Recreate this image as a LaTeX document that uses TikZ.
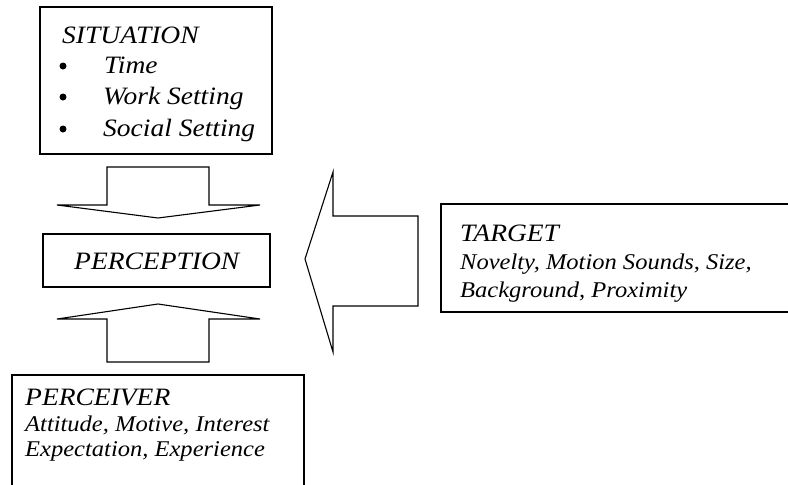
\documentclass[tikz,border=0pt]{standalone}
\usepackage{fontspec}
\setmainfont{Liberation Serif}
\newcommand{\bigtxt}[1]{\scalebox{1.1}[1]{\fontsize{25}{28}\selectfont\itshape #1}}
\newcommand{\smtxt}[1]{\scalebox{1.09}[1]{\fontsize{22.5}{26}\selectfont\itshape #1}}
\begin{document}
\begin{tikzpicture}[x=1pt,y=-1pt,
  box/.style={draw,line width=1.3pt},
  arrowshape/.style={draw,line width=1.1pt,line join=miter},
  lbl/.style={anchor=base west,inner sep=0pt},
  dot/.style={circle,fill,inner sep=0pt,minimum size=7pt}]
\useasboundingbox (0,0) rectangle (788,485);
\clip (0,0) rectangle (788,485);
% boxes
\draw[box] (40,7) rectangle (272,154);
\draw[box] (43,234) rectangle (270,287);
\draw[box] (12,490) -- (12,375) -- (304,375) -- (304,490);
\draw[box] (795,204) -- (441,204) -- (441,312) -- (795,312);
% situation text
\node[lbl] (sit) at (62,43) {\bigtxt{SITUATION}};
\node[dot] (b1) at (63,66) {};
\node[dot] (b2) at (63,97) {};
\node[dot] (b3) at (63,129) {};
\node[lbl] (t1) at (104,73) {\bigtxt{Time}};
\node[lbl] (t2) at (103,104) {\bigtxt{Work Setting}};
\node[lbl] (t3) at (103,136) {\bigtxt{Social Setting}};
% perception
\node[lbl] (perc) at (74,269) {\bigtxt{PERCEPTION}};
% target
\node[lbl] (tgt) at (460,241) {\bigtxt{TARGET}};
\node[lbl] (tg1) at (460,269) {\smtxt{Novelty, Motion Sounds, Size,}};
\node[lbl] (tg2) at (460,297) {\smtxt{Background, Proximity}};
% perceiver
\node[lbl] (pcv) at (25,405) {\bigtxt{PERCEIVER}};
\node[lbl] (pv1) at (25,431) {\smtxt{Attitude, Motive, Interest}};
\node[lbl] (pv2) at (25,456) {\smtxt{Expectation, Experience}};
% block arrows
\draw[arrowshape] (107,167) -- (209,167) -- (209,205) -- (260,205) -- (158,218) -- (57,205) -- (107,205) -- cycle;
\draw[arrowshape] (107,362) -- (209,362) -- (209,319) -- (260,319) -- (158,304) -- (57,319) -- (107,319) -- cycle;
\draw[arrowshape] (418,216) -- (418,306) -- (333,306) -- (333,352) -- (305,259) -- (333,172) -- (333,216) -- cycle;
\end{tikzpicture}
\end{document}
